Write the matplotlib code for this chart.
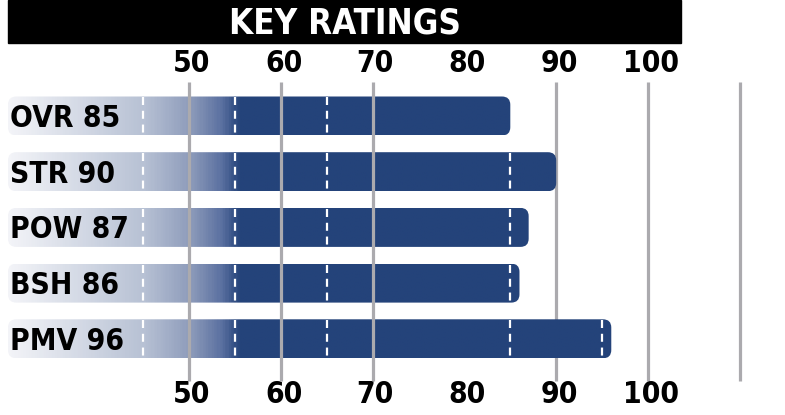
import numpy as np
import matplotlib.pyplot as plt
from matplotlib.patches import FancyBboxPatch, Rectangle
from matplotlib.colors import LinearSegmentedColormap
from matplotlib import font_manager

# ratings data
labels = ['OVR', 'STR', 'POW', 'BSH', 'PMV']
ratings = [85, 90, 87, 86, 96]
tick_vals = [50, 60, 70, 80, 90, 100]
front_lines = [50, 60, 70]
back_lines = [90, 100, 110]
dash_vals = [45, 55, 65, 85, 95]

title = 'KEY RATINGS'
navy = '#24437a'
grey = '#abaaae'

# heavy condensed look if the condensed face is there
cond = [f for f in font_manager.fontManager.ttflist
        if f.name == 'DejaVu Sans' and f.stretch == 'condensed' and f.weight == 700]
if cond:
    font = dict(family='DejaVu Sans', weight='bold', stretch='condensed')
else:
    font = dict(family='DejaVu Sans', weight='bold')

# pixel-ish layout: x in rating units, y in pixels
ppu = 9.18
x0 = 50 - 189 / ppu
bar_left = x0 + 8 / ppu
row_y0 = 116
row_step = 55.7
bar_h = 39

fig = plt.figure(figsize=(7.85, 4.15), dpi=100)
ax = fig.add_axes([0, 0, 1, 1])
ax.set_xlim(x0, x0 + 785 / ppu)
ax.set_ylim(415, 0)
ax.axis('off')

# title bar
ax.add_patch(Rectangle((bar_left, 0), x0 + 681 / ppu - bar_left, 43,
                       color='black', zorder=1))
ax.text((bar_left + x0 + 681 / ppu) / 2, 34, title, color='white',
        fontsize=25, ha='center', va='baseline', zorder=2, **font)

# gradient for the bars
grad_max = 110
stops = [(bar_left, '#f3f4f8'), (45, '#b7c1d4'), (50, '#8e9cbb'),
         (53.5, '#5a70a0'), (55.5, navy), (grad_max, navy)]
cmap = LinearSegmentedColormap.from_list(
    'bar', [((v - bar_left) / (grad_max - bar_left), c) for v, c in stops])
grad = np.linspace(0, 1, 600).reshape(1, -1)

# grey lines behind bars
for v in back_lines:
    ax.plot([v, v], [82, 381], color=grey, lw=2.3, zorder=1,
            solid_capstyle='butt')

for i, (lab, val) in enumerate(zip(labels, ratings)):
    yc = row_y0 + i * row_step
    patch = FancyBboxPatch((bar_left, yc - bar_h / 2), val - bar_left, bar_h,
                           boxstyle='round,pad=0,rounding_size=0.9',
                           mutation_aspect=ppu, facecolor='none',
                           edgecolor='none', zorder=2)
    ax.add_patch(patch)
    im = ax.imshow(grad, cmap=cmap, aspect='auto', zorder=2,
                   extent=(bar_left, grad_max, yc + bar_h / 2, yc - bar_h / 2),
                   interpolation='bilinear')
    im.set_clip_path(patch)
    for d in dash_vals:
        if d < val:
            ax.plot([d, d], [yc - bar_h / 2 + 1, yc + bar_h / 2], color='white',
                    lw=1.6, ls=(0, (3.6, 2.6)), zorder=3)
    ax.text(x0 + 10 / ppu, yc + 11, f'{lab} {val}', fontsize=21.5,
            ha='left', va='baseline', color='black', zorder=5, **font)

# grey lines in front of bars
for v in front_lines:
    ax.plot([v, v], [82, 381], color=grey, lw=2.3, zorder=4,
            solid_capstyle='butt')

# tick labels top and bottom
for t in tick_vals:
    ax.text(t + 0.3, 72, str(t), fontsize=21.5, ha='center', va='baseline',
            color='black', **font)
    ax.text(t + 0.3, 403, str(t), fontsize=21.5, ha='center', va='baseline',
            color='black', **font)

fig.savefig('out.png', dpi=100)
